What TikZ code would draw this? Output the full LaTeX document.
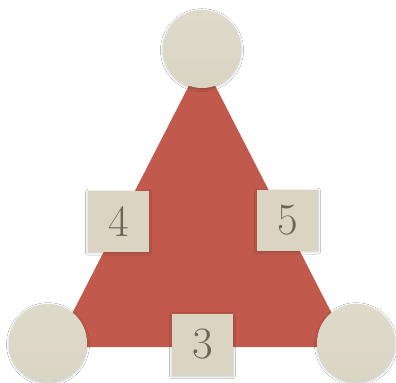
\documentclass[tikz,border=0pt]{standalone}
\usetikzlibrary{shadows.blur}
\definecolor{beige}{HTML}{DAD5C3}
\definecolor{beigetop}{HTML}{DEDACA}
\definecolor{brick}{HTML}{C15A4C}
\definecolor{digit}{HTML}{6A6556}
\begin{document}
\begin{tikzpicture}[x=1bp,y=-1bp,
  ball/.style={circle, minimum size=78bp, inner sep=0pt, top color=beigetop, bottom color=beige,
    blur shadow={shadow blur steps=6, shadow xshift=0bp, shadow yshift=-1.2bp, shadow blur radius=2.5bp, shadow opacity=25}},
  numbox/.style={rectangle, minimum width=61bp, minimum height=61bp, inner sep=0pt, fill=beige, text=digit,
    font=\fontsize{45}{45}\selectfont,
    blur shadow={shadow blur steps=6, shadow xshift=0bp, shadow yshift=-1.2bp, shadow blur radius=2.5bp, shadow opacity=25}}]
\useasboundingbox (0,0) rectangle (396,383);
\fill[white] (0,0) rectangle (396,383);
\coordinate (apex) at (202,60);
\coordinate (bl) at (55,347);
\coordinate (br) at (349,347);
\fill[brick] (apex) -- (bl) -- (br) -- cycle;
\node[ball] (top) at (202,49) {};
\node[ball] (left) at (48,343) {};
\node[ball] (right) at (356,343) {};
\node[numbox] (four) at (118.5,221) {4};
\node[numbox] (five) at (287.5,220) {5};
\node[numbox] (three) at (202.5,344.5) {3};
\end{tikzpicture}
\end{document}
